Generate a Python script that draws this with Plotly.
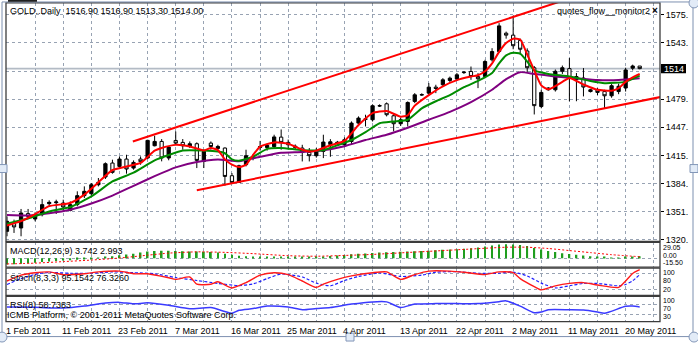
import plotly.graph_objects as go

W, H = 698, 349

# ---------------- daily GOLD bars (index 0 = 1 Feb 2011) ----------------
opens = [1329.4, 1338.1, 1333.2, 1349.5, 1343.4, 1348.3, 1360.8, 1361.9, 1361.5, 1353.2,
         1359.7, 1369.9, 1372.1, 1382.3, 1391.0, 1406.9, 1403.1, 1411.4, 1401.2, 1411.4,
         1412.6, 1426.5, 1431.4, 1412.6, 1432.5, 1430.3, 1425.7, 1428.8, 1408.7, 1429.5,
         1423.5, 1423.9, 1392.5, 1384.9, 1405.0, 1414.0, 1424.5, 1424.5, 1425.5, 1436.3,
         1430.3, 1424.5, 1423.9, 1419.0, 1415.2, 1420.1, 1428.0, 1429.0, 1427.7, 1431.4,
         1452.2, 1456.5, 1456.0, 1471.5, 1474.1, 1460.5, 1451.5, 1454.1, 1476.8, 1484.0,
         1486.2, 1493.0, 1495.7, 1500.6, 1502.1, 1509.5, 1510.8, 1505.0, 1505.1, 1524.0,
         1533.4, 1554.2, 1552.0, 1546.0, 1534.0, 1515.0, 1471.0, 1490.0, 1490.0, 1511.0,
         1514.0, 1501.5, 1503.3, 1488.0, 1490.0, 1488.0, 1483.2, 1488.0, 1492.0, 1514.5,
         1516.9]
highs = [1346.4, 1342.7, 1354.8, 1354.8, 1351.0, 1366.1, 1364.6, 1365.3, 1365.3, 1363.4,
         1374.8, 1380.4, 1384.2, 1389.9, 1407.6, 1410.7, 1414.4, 1416.3, 1409.9, 1414.4,
         1433.3, 1437.9, 1434.1, 1426.0, 1442.7, 1434.1, 1431.4, 1430.3, 1422.0, 1431.4,
         1427.6, 1424.6, 1395.5, 1405.0, 1422.0, 1417.0, 1432.0, 1429.0, 1439.0, 1445.0,
         1433.5, 1428.0, 1427.6, 1423.9, 1424.0, 1439.0, 1434.0, 1432.0, 1436.0, 1454.1,
         1459.8, 1461.7, 1473.5, 1473.5, 1475.6, 1463.5, 1458.0, 1476.8, 1486.2, 1486.0,
         1497.6, 1495.7, 1503.2, 1505.0, 1509.0, 1511.0, 1516.4, 1508.9, 1524.0, 1537.2,
         1565.6, 1556.0, 1574.0, 1548.0, 1537.0, 1517.0, 1490.0, 1493.0, 1513.0, 1517.5,
         1526.0, 1509.0, 1514.6, 1491.0, 1492.0, 1490.0, 1496.5, 1497.0, 1515.0, 1518.5,
         1516.9]
lows = [1323.8, 1327.6, 1323.8, 1344.5, 1340.8, 1346.4, 1357.0, 1349.1, 1353.2, 1352.1,
        1357.8, 1367.2, 1369.9, 1380.4, 1388.8, 1394.8, 1400.1, 1394.8, 1399.3, 1405.0,
        1411.4, 1425.8, 1408.8, 1410.0, 1427.6, 1422.0, 1423.9, 1401.2, 1401.2, 1422.0,
        1422.0, 1381.2, 1384.2, 1384.2, 1403.1, 1410.0, 1421.0, 1421.0, 1424.0, 1422.0,
        1424.0, 1422.0, 1408.7, 1408.7, 1413.0, 1412.5, 1414.0, 1427.0, 1425.0, 1427.7,
        1450.3, 1448.4, 1454.0, 1470.5, 1459.8, 1442.8, 1449.0, 1448.4, 1474.9, 1483.0,
        1483.2, 1486.2, 1493.8, 1498.0, 1500.0, 1508.0, 1501.3, 1491.9, 1503.2, 1522.0,
        1531.6, 1548.0, 1536.0, 1530.0, 1509.0, 1462.0, 1469.0, 1489.0, 1488.0, 1508.0,
        1477.0, 1477.0, 1482.5, 1487.0, 1484.0, 1469.2, 1481.0, 1485.0, 1488.0, 1512.0,
        1513.3]
closes = [1340.8, 1334.4, 1350.2, 1346.4, 1348.3, 1359.7, 1362.3, 1362.7, 1357.0, 1359.7,
          1369.9, 1374.8, 1382.3, 1385.0, 1406.1, 1396.3, 1411.4, 1400.1, 1407.6, 1408.4,
          1432.6, 1431.4, 1412.6, 1425.0, 1429.5, 1426.5, 1428.8, 1409.9, 1420.1, 1425.7,
          1425.7, 1391.7, 1384.9, 1403.8, 1415.2, 1413.0, 1425.5, 1427.0, 1436.5, 1430.3,
          1427.6, 1426.0, 1419.0, 1415.2, 1421.2, 1430.7, 1431.0, 1430.5, 1433.3, 1452.2,
          1457.9, 1457.0, 1471.9, 1472.0, 1461.7, 1451.5, 1456.0, 1475.6, 1484.3, 1484.5,
          1493.0, 1491.5, 1501.3, 1503.2, 1507.0, 1510.0, 1505.1, 1502.5, 1522.1, 1533.4,
          1562.5, 1552.0, 1540.0, 1536.0, 1515.0, 1472.0, 1487.0, 1492.0, 1511.0, 1515.0,
          1503.0, 1505.0, 1493.1, 1490.0, 1487.0, 1483.2, 1494.6, 1494.0, 1512.5, 1517.0,
          1514.0]
bars = list(range(len(closes)))

date_labels = ["1 Feb 2011", "11 Feb 2011", "23 Feb 2011", "7 Mar 2011", "16 Mar 2011",
               "25 Mar 2011", "4 Apr 2011", "13 Apr 2011", "22 Apr 2011", "2 May 2011",
               "11 May 2011", "20 May 2011"]
date_label_bars = [0, 8, 16, 24, 32, 40, 48, 56, 64, 72, 80, 88]

price_ticks = [1320.0, 1351.9, 1383.8, 1415.6, 1447.5, 1479.4, 1511.3, 1543.1, 1575.0]
price_tick_text = ["1320.", "1351.", "1384.", "1415.", "1447.", "1479.", "", "1543.", "1575."]

# ---------------- moving averages (fast / medium / slow) ----------------
ma_fast_x = [0, 2, 4, 6, 9, 11, 13, 15, 17, 19, 21, 22, 24, 26, 28, 29, 30, 31, 32, 33,
             34, 35, 36, 38, 40, 42, 43, 44, 46, 48, 50, 52, 54, 56, 57, 58, 60, 62, 64, 66,
             67, 68, 69, 70, 71, 72, 73, 74, 75, 76, 77, 79, 80, 82, 84, 86, 87, 88, 89, 90]
ma_fast_y = [1336, 1341, 1349, 1358, 1361.5, 1371, 1385, 1399, 1403, 1407, 1421, 1424,
             1427.5, 1425.7, 1421.2, 1423.9, 1421.5, 1411, 1405, 1402.3, 1405, 1416, 1425.5,
             1430.3, 1428.8, 1422, 1420, 1421, 1427, 1432, 1450, 1463.6, 1466, 1459.5, 1461,
             1472, 1484, 1494, 1501, 1505, 1506.5, 1511, 1520, 1533, 1543, 1548, 1547, 1530,
             1512, 1495, 1490.5, 1499, 1503.5, 1496, 1490, 1489, 1492, 1499, 1504, 1508]

ma_mid_x = [0, 3, 6, 9, 12, 15, 18, 21, 23, 25, 28, 30, 31, 32, 33, 35, 37, 39, 42, 45,
            47, 49, 51, 53, 55, 57, 59, 61, 63, 65, 67, 69, 70, 71, 72, 73, 74, 75, 77, 80,
            83, 85, 88, 90]
ma_mid_y = [1338, 1344, 1352, 1357, 1369, 1386, 1396, 1410, 1416, 1421, 1421, 1420, 1418,
            1411, 1409.5, 1414, 1423, 1424, 1421.5, 1421.5, 1427, 1433, 1442, 1452, 1454,
            1456, 1469, 1477, 1484, 1493, 1500, 1509, 1520, 1529, 1532, 1531, 1522, 1512,
            1508, 1505, 1500, 1497.5, 1499, 1506]

ma_slow_x = [0, 3, 6, 9, 12, 15, 18, 21, 24, 27, 30, 33, 36, 39, 42, 45, 48, 51, 54, 57,
             60, 63, 66, 69, 71, 73, 75, 78, 81, 84, 87, 90]
ma_slow_y = [1348, 1347.5, 1350, 1354, 1361, 1370, 1381, 1392, 1402, 1408, 1411, 1409,
             1414, 1418.5, 1419.5, 1421.5, 1426, 1433, 1439, 1447, 1456, 1465, 1476, 1490,
             1502, 1510, 1508, 1505, 1503, 1501, 1501, 1503]

# ---------------- channel trend lines (bar, price) ----------------
channel_upper_bars = [17.9, 81.5]
channel_upper_prices = [1431.4, 1597.5]
channel_lower_bars = [27.0, 92.9]
channel_lower_prices = [1375.9, 1481.7]

# ---------------- MACD(12,26,9) ----------------
macd_main = [-12, -11.5, -10.5, -9.5, -8.5,
             -7.5, -6.5, -5.5, -4.5, -4,
             -3, -2, -1, 0.5, 2, 4,
             6, 7.5, 9, 11,
             13, 14, 14.5, 14.5, 14,
             13.5, 13, 13, 12.5, 12, 11,
             9, 7, 5,
             4, 3.5, 3.5, 3.5, 3.5, 3, 2.5, 2.5,
             2, 2, 2.5, 3.5, 4.5, 5.5, 6.5,
             8, 9, 9.5, 10.5, 11,
             11.5, 12, 12.5, 13, 13.5,
             14, 14.5, 15.5, 16.5, 17,
             17.5, 18.5, 19.5, 21, 23,
             25, 27, 27.5, 27, 26,
             24, 20, 17, 14, 12,
             10, 8.5, 7, 5.5, 4,
             3, 2, 1.5, 1.5, 2.5, 3.2, 3.742]
macd_signal_x = [0, 4, 8, 12, 16, 20, 23, 27, 31, 35, 40, 44, 48, 52, 56, 60, 64, 68, 71,
                 74, 77, 80, 83, 86, 90]
macd_signal_y = [-11, -9.5, -6.5, -3.5, 0.5, 6, 10, 12.5, 11.5, 9, 5, 4, 5.5, 7.5, 10.5,
                 13.5, 16.5, 19.5, 21.5, 21.5, 19, 15, 11, 7, 2.993]
macd_max, macd_min = 29.05, -15.50

# ---------------- Stochastic(8,3,3) ----------------
stoch_main_x = [0, 2, 4, 6, 8, 11, 13, 16, 18, 20, 23, 24, 26, 27, 29, 30, 32, 34, 36, 38,
                40, 42, 44, 45, 47, 49, 52, 54, 56, 58, 60, 63, 65, 68, 70, 72, 73, 75, 76,
                78, 80, 82, 84, 87, 88, 89, 90]
stoch_main_y = [53, 75, 84, 87, 77, 80, 87, 90, 80, 80, 65, 59, 68, 41, 41, 50, 27, 47, 75,
                84, 77, 53, 29, 41, 59, 72, 84, 87, 59, 77, 90, 90, 86, 77, 87, 84, 62, 32,
                20, 35, 44, 47, 38, 29, 53, 81, 95.1542]
stoch_sig_x = [0, 2, 4, 6, 9, 12, 15, 18, 21, 24, 27, 30, 33, 35, 37, 39, 42, 44, 46, 48,
               50, 53, 56, 59, 61, 64, 67, 70, 72, 74, 76, 78, 80, 82, 84, 87, 88, 89, 90]
stoch_sig_y = [40, 62, 78, 85, 82, 82, 87, 84, 80, 66, 55, 44, 36, 42, 62, 79, 68, 45, 35,
               55, 70, 83, 70, 75, 86, 88, 82, 82, 86, 72, 45, 27, 35, 44, 44, 35, 40, 54,
               76.3260]
stoch_levels = [20, 80]

# ---------------- RSI(8) ----------------
rsi_x = [0, 4, 8, 11, 14, 16, 18, 20, 23, 26, 29, 31, 32, 33, 35, 37, 40, 42, 44, 46, 49,
         52, 54, 56, 58, 61, 64, 67, 70, 71, 73, 75, 76, 77, 80, 82, 84, 85, 88, 89, 90]
rsi_y = [58, 57, 54, 62, 74, 77, 71, 75, 65, 51, 56, 40, 33, 45, 52, 62, 58, 47, 52, 56,
         70, 79, 79, 56, 70, 72, 72, 72, 80, 83, 62, 35, 38, 47, 47, 46, 38, 33, 61, 62,
         58.7383]
rsi_levels = [30, 70]

# ---------------- pixel layout helpers ----------------
def px(x):
    return x / W


def py(y):
    return 1 - y / H


PLOT_L, PLOT_R = 6, 660
BAR0_PX, BAR_STEP = 7.0, 7.03
MAIN_TOP, MAIN_BOT = 3, 243.5
MACD_TOP, MACD_BOT = 244.5, 269.5
STO_TOP, STO_BOT = 270.5, 298
RSI_TOP, RSI_BOT = 299, 324.5

# price scale: 1575 sits at row 15, 1320 at row 241.7
PRICE_PER_PX = (1575 - 1320) / (241.7 - 15)
main_range = [1320 - (MAIN_BOT - 241.7) * PRICE_PER_PX, 1575 + (15 - MAIN_TOP) * PRICE_PER_PX]
x_range = [(PLOT_L - BAR0_PX) / BAR_STEP, (PLOT_R - BAR0_PX) / BAR_STEP]

FONT = "Liberation Sans, Arial, sans-serif"
GRID = "#98a3b3"
RED, GREEN, PURPLE = "#ff0000", "#008c00", "#800080"

fig = go.Figure()

# candles
fig.add_trace(go.Candlestick(
    x=bars, open=opens, high=highs, low=lows, close=closes,
    increasing=dict(line=dict(color="black", width=1), fillcolor="black"),
    decreasing=dict(line=dict(color="black", width=1), fillcolor="white"),
    whiskerwidth=0, hoverinfo="skip", xaxis="x", yaxis="y"))

# moving averages
for xs, ys, col in [(ma_slow_x, ma_slow_y, PURPLE), (ma_mid_x, ma_mid_y, GREEN),
                    (ma_fast_x, ma_fast_y, RED)]:
    fig.add_trace(go.Scatter(x=xs, y=ys, mode="lines",
                             line=dict(color=col, width=2, shape="spline", smoothing=0.5),
                             hoverinfo="skip", xaxis="x", yaxis="y"))

# channel
for xs, ys in [(channel_upper_bars, channel_upper_prices), (channel_lower_bars, channel_lower_prices)]:
    fig.add_trace(go.Scatter(x=xs, y=ys, mode="lines", line=dict(color=RED, width=2),
                             hoverinfo="skip", xaxis="x", yaxis="y"))

# MACD
fig.add_trace(go.Bar(x=bars, y=macd_main, width=0.25, marker=dict(color="#1f9e1f", line=dict(width=0)),
                     hoverinfo="skip", xaxis="x", yaxis="y2"))
fig.add_trace(go.Scatter(x=macd_signal_x, y=macd_signal_y, mode="lines",
                         line=dict(color=RED, width=1, dash="2px,2px", shape="spline", smoothing=0.6),
                         hoverinfo="skip", xaxis="x", yaxis="y2"))

# Stochastic
fig.add_trace(go.Scatter(x=stoch_sig_x, y=stoch_sig_y, mode="lines",
                         line=dict(color="#1e1eff", width=1.2, dash="3px,2px", shape="spline", smoothing=0.6),
                         hoverinfo="skip", xaxis="x", yaxis="y3"))
fig.add_trace(go.Scatter(x=stoch_main_x, y=stoch_main_y, mode="lines",
                         line=dict(color="#ff1a1a", width=1.4, shape="spline", smoothing=0.6),
                         hoverinfo="skip", xaxis="x", yaxis="y3"))

# RSI
fig.add_trace(go.Scatter(x=rsi_x, y=rsi_y, mode="lines",
                         line=dict(color="#3a3aff", width=1.5, shape="spline", smoothing=0.6),
                         hoverinfo="skip", xaxis="x", yaxis="y4"))

grid_common = dict(showgrid=True, gridcolor=GRID, gridwidth=1, griddash="3px,3px",
                   zeroline=False, fixedrange=True)

macd_pad = (macd_max - macd_min) / ((MACD_BOT - MACD_TOP) - 1)
fig.update_layout(
    width=W, height=H, margin=dict(l=0, r=0, t=0, b=0),
    paper_bgcolor="white", plot_bgcolor="white", showlegend=False,
    boxgap=0.34,
    font=dict(family=FONT, size=9, color="black"),
    xaxis=dict(domain=[px(PLOT_L), px(PLOT_R)], range=x_range, anchor="y4",
               tickvals=list(range(4, 93, 4)), showticklabels=False, ticks="",
               rangeslider=dict(visible=False), **grid_common),
    yaxis=dict(domain=[py(MAIN_BOT), py(MAIN_TOP)], range=main_range, anchor="x", side="right",
               tickvals=price_ticks, ticktext=price_tick_text, ticks="outside", ticklen=3,
               tickcolor="black", tickfont=dict(size=9, family=FONT), **grid_common),
    yaxis2=dict(domain=[py(MACD_BOT), py(MACD_TOP)],
                range=[macd_min - macd_pad, macd_max + macd_pad], anchor="x",
                tickvals=[0], showticklabels=False, **grid_common),
    yaxis3=dict(domain=[py(STO_BOT), py(STO_TOP)], range=[-1, 101], anchor="x",
                tickvals=stoch_levels, showticklabels=False, **grid_common),
    yaxis4=dict(domain=[py(RSI_BOT), py(RSI_TOP)], range=[-1, 101], anchor="x",
                tickvals=rsi_levels, showticklabels=False, **grid_common),
)

shapes = []
# bid line
last_close = closes[-1]
shapes.append(dict(type="line", xref="paper", yref="y", x0=px(PLOT_L), x1=px(PLOT_R),
                   y0=last_close, y1=last_close, line=dict(color="#b3bbc5", width=1.6), layer="below"))
# panel frames
for top, bot in [(MAIN_TOP, MAIN_BOT), (MACD_TOP, MACD_BOT), (STO_TOP, STO_BOT), (RSI_TOP, RSI_BOT)]:
    shapes.append(dict(type="rect", xref="paper", yref="paper", x0=px(PLOT_L), x1=px(PLOT_R),
                       y0=py(bot), y1=py(top), line=dict(color="#3c3c3c", width=1.3),
                       fillcolor="rgba(0,0,0,0)", layer="above"))
# current price box
shapes.append(dict(type="rect", xref="paper", yref="y", x0=px(661), x1=px(686),
                   y0=last_close - 4.6 * PRICE_PER_PX, y1=last_close + 4.6 * PRICE_PER_PX,
                   line=dict(width=0), fillcolor="black", layer="above"))
# outer frame
shapes.append(dict(type="rect", xref="paper", yref="paper", x0=px(2), x1=px(693),
                   y0=py(339.5), y1=py(2), line=dict(color="#7d90b0", width=1),
                   fillcolor="rgba(0,0,0,0)", layer="above"))
shapes.append(dict(type="rect", xref="paper", yref="paper", x0=px(8), x1=px(37),
                   y0=py(1.8), y1=py(0), line=dict(width=0), fillcolor="#202020", layer="above"))
# resize handles
for cx, cy in [(694, 3), (2, 340), (694, 340)]:
    shapes.append(dict(type="circle", xref="paper", yref="paper", x0=px(cx - 5), x1=px(cx + 5),
                       y0=py(cy + 5), y1=py(cy - 5), line=dict(color="#8397b8", width=1),
                       fillcolor="#e2ebf7", layer="above"))
for cx, cy in [(3, 170), (694, 170), (350, 340)]:
    shapes.append(dict(type="rect", xref="paper", yref="paper", x0=px(cx - 4), x1=px(cx + 4),
                       y0=py(cy + 4), y1=py(cy - 4), line=dict(color="#8397b8", width=1),
                       fillcolor="#e2ebf7", layer="above"))
fig.update_layout(shapes=shapes)

ann = []


def label(x, y, text, size=9, color="black", anchor="left"):
    ann.append(dict(x=px(x), y=py(y), xref="paper", yref="paper", text=text, showarrow=False,
                    xanchor=anchor, yanchor="middle", borderpad=0,
                    font=dict(size=size, color=color, family=FONT)))


label(9, 11, "GOLD..Daily  %.2f %.2f %.2f %.2f" % (opens[-1], highs[-1], lows[-1], closes[-1]))
label(556, 11, "quotes_flow__monitor2")
label(651, 11, "<b>×</b>", size=10)
ann.append(dict(x=px(673.5), y=last_close, xref="paper", yref="y", text="%d" % round(last_close),
                showarrow=False, xanchor="center", yanchor="middle",
                font=dict(size=9, color="white", family=FONT)))

label(9, 253, "MACD(12,26,9) %.3f %.3f" % (macd_main[-1], macd_signal_y[-1]))
label(9, 280, "Stoch(8,3,3) %.4f %.4f" % (stoch_main_y[-1], stoch_sig_y[-1]))
label(9, 307.5, "RSI(8) %.4f" % rsi_y[-1])
label(6, 317.5, "ICMB Platform, © 2001-2011 MetaQuotes Software Corp.")

# sub-window scale labels (small so they stack inside the narrow panels)
SMALL = 7
label(662, 249.5, "%.2f" % macd_max, size=SMALL)
label(662, 257.3, "0.00", size=SMALL)
label(662, 265.1, "%.2f" % macd_min, size=SMALL)
label(662, 275.0, "100", size=SMALL)
label(662, 282.8, str(stoch_levels[1]), size=SMALL)
label(662, 292.5, str(stoch_levels[0]), size=SMALL)
label(662, 303.2, "100", size=SMALL)
label(662, 311.0, str(rsi_levels[1]), size=SMALL)
label(662, 318.8, str(rsi_levels[0]), size=SMALL)

for b, t in zip(date_label_bars, date_labels):
    ann.append(dict(x=b, y=py(333.5), xref="x", yref="paper", text=t, showarrow=False,
                    xanchor="left", yanchor="middle", xshift=-2, borderpad=0,
                    font=dict(size=9, color="black", family=FONT)))

fig.update_layout(annotations=ann)

fig.write_html("out.html", config={"displayModeBar": False})
